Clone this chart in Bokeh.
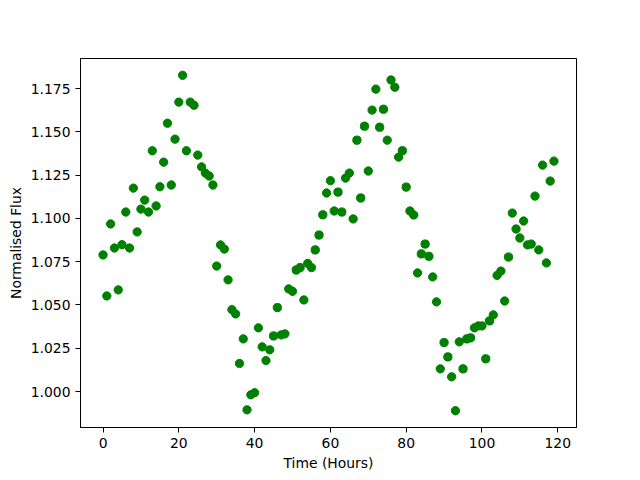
from bokeh.plotting import figure
from bokeh.models import Range1d, FixedTicker, NumeralTickFormatter
from bokeh.embed import file_html
from bokeh.resources import INLINE

hours = list(range(120))
flux = [
    1.0789, 1.0552, 1.0968, 1.0829, 1.0587, 1.0848, 1.1037, 1.0829, 1.1175, 1.0922,
    1.1054, 1.1106, 1.1037, 1.1391, 1.1072, 1.1183, 1.1325, 1.1550, 1.1193, 1.1458,
    1.1672, 1.1827, 1.1391, 1.1672, 1.1654, 1.1366, 1.1298, 1.1262, 1.1245, 1.1193,
    1.0725, 1.0847, 1.0823, 1.0645, 1.0473, 1.0448, 1.0162, 1.0304, 0.9894, 0.9981,
    0.9993, 1.0368, 1.0258, 1.0179, 1.0241, 1.0321, 1.0485, 1.0327, 1.0333, 1.0593,
    1.0579, 1.0702, 1.0716, 1.0529, 1.0740, 1.0716, 1.0818, 1.0904, 1.1021, 1.1147,
    1.1218, 1.1043, 1.1152, 1.1037, 1.1233, 1.1262, 1.0997, 1.1452, 1.1118, 1.1533,
    1.1274, 1.1626, 1.1747, 1.1527, 1.1631, 1.1452, 1.1800, 1.1758, 1.1354, 1.1391,
    1.1181, 1.1043, 1.1020, 1.0685, 1.0795, 1.0852, 1.0781, 1.0662, 1.0518, 1.0131,
    1.0283, 1.0200, 1.0085, 0.9889, 1.0287, 1.0131, 1.0304, 1.0310, 1.0368, 1.0379,
    1.0379, 1.0189, 1.0408, 1.0443, 1.0671, 1.0696, 1.0523, 1.0777, 1.1031, 1.0939,
    1.0887, 1.0985, 1.0847, 1.0852, 1.1129, 1.0818, 1.1308, 1.0743, 1.1216, 1.1331,
]
x_ticks = [0, 20, 40, 60, 80, 100, 120]
y_ticks = [1.000, 1.025, 1.050, 1.075, 1.100, 1.125, 1.150, 1.175]

def padded(vals, frac=0.05):
    lo, hi = min(vals), max(vals)
    m = (hi - lo) * frac
    return lo - m, hi + m

x0, x1 = padded(hours)
y0, y1 = padded(flux)

p = figure(output_backend="svg", toolbar_location=None,
           frame_width=496, frame_height=369,
           min_border_left=80, min_border_top=58, min_border_right=32, min_border_bottom=42,
           x_range=Range1d(x0, x1), y_range=Range1d(y0, y1))
p.background_fill_color = "white"
p.border_fill_color = "white"
p.outline_line_color = "black"
p.outline_line_width = 1
p.grid.visible = False

p.scatter(hours, flux, size=8.3, fill_color="#008000", line_color="#008000")

font = "DejaVu Sans"
for ax in (p.xaxis[0], p.yaxis[0]):
    ax.axis_line_color = "black"
    ax.major_tick_line_color = "black"
    ax.major_tick_out = 5
    ax.major_tick_in = 0
    ax.minor_tick_line_color = None
    ax.major_label_text_font = font
    ax.major_label_text_font_size = "13.9px"
    ax.major_label_text_color = "black"
    ax.axis_label_text_font = font
    ax.axis_label_text_font_size = "13.9px"
    ax.axis_label_text_font_style = "normal"
    ax.axis_label_text_color = "black"
    ax.major_label_standoff = 5

p.xaxis[0].ticker = FixedTicker(ticks=x_ticks)
p.yaxis[0].ticker = FixedTicker(ticks=y_ticks)
p.yaxis[0].formatter = NumeralTickFormatter(format="0.000")
p.xaxis[0].axis_label = "Time (Hours)"
p.yaxis[0].axis_label = "Normalised Flux"
p.xaxis[0].axis_label_standoff = 4
p.yaxis[0].axis_label_standoff = 4

open("out.html", "w").write(file_html(p, INLINE))
